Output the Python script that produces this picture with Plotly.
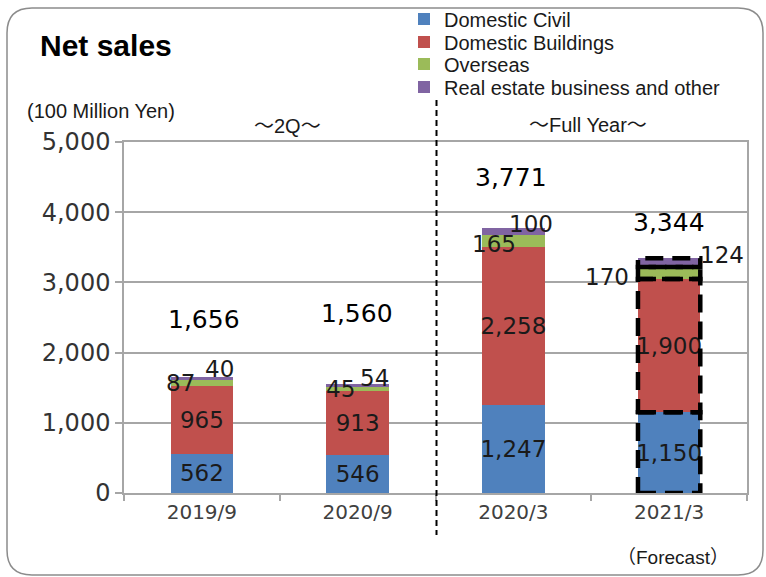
import plotly.graph_objects as go

# ---- data (100 million yen) ----
periods = ["2019/9", "2020/9", "2020/3", "2021/3"]
domestic_civil = [562, 546, 1247, 1150]
domestic_buildings = [965, 913, 2258, 1900]
overseas = [87, 45, 165, 170]
real_estate = [40, 54, 100, 124]
totals = [1656, 1560, 3771, 3344]

series_names = ["Domestic Civil", "Domestic Buildings", "Overseas",
                "Real estate business and other"]
series_colors = ["#4f81bd", "#c0504d", "#9bbb59", "#8064a2"]
series_values = [domestic_civil, domestic_buildings, overseas, real_estate]

# ---- geometry of the plotting area (pixels) ----
W, H = 766, 577
L, R, T, B = 124, 19, 142, 84
PW, PH = W - L - R, H - T - B


def px_x(px):
    return (px - L) / PW


def px_y(py):
    return (H - B - py) / PH


NUM_FONT = "DejaVu Sans"
TXT_FONT = "Liberation Sans, Arial, sans-serif"
CJK_MIX = "Liberation Sans, Noto Sans CJK JP, sans-serif"
BAR_W = 0.4

fig = go.Figure()
legend_ids = ["legend", "legend2", "legend3", "legend4"]
for i, (name, color, vals) in enumerate(zip(series_names, series_colors, series_values)):
    inside = i < 2
    fig.add_trace(go.Bar(
        x=periods, y=vals, name=name, width=BAR_W,
        marker=dict(color=color, line=dict(width=0)),
        texttemplate="%{y:,}" if inside else None,
        textposition="inside" if inside else "none",
        insidetextanchor="middle", textangle=0, constraintext="none",
        textfont=dict(family=NUM_FONT, size=23, color="#1a1a1a"),
        legend=legend_ids[i], cliponaxis=False,
    ))

# cumulative stack bounds
base = [[0] * len(periods)]
for vals in series_values:
    base.append([b + v for b, v in zip(base[-1], vals)])

annotations = []

# labels for the thin upper segments (overseas, real estate)
small_offsets = {
    2: [(-21, 0), (-17, 0), (-19, -3), (-62, -4)],
    3: [(18, 9), (17, 8), (18, 8), (53, 8)],
}
for s, offs in small_offsets.items():
    for j, p in enumerate(periods):
        mid = (base[s][j] + base[s + 1][j]) / 2
        annotations.append(dict(
            x=p, y=mid, xref="x", yref="y", text=f"{series_values[s][j]:,}",
            showarrow=False, xshift=offs[j][0], yshift=offs[j][1],
            xanchor="center", yanchor="middle",
            font=dict(family=NUM_FONT, size=23, color="#1a1a1a"),
        ))

# totals above each bar
total_offsets = [(2, 57), (-1, 70), (-2, 51), (0, 36)]
for j, p in enumerate(periods):
    annotations.append(dict(
        x=p, y=base[-1][j], xref="x", yref="y", text=f"{totals[j]:,}",
        showarrow=False, xshift=total_offsets[j][0], yshift=total_offsets[j][1],
        xanchor="center", yanchor="middle",
        font=dict(family=NUM_FONT, size=25, color="#000000"),
    ))

# free text
annotations += [
    dict(x=px_x(38), y=px_y(45), xanchor="left",
         text="<b>Net sales</b>",
         font=dict(family=TXT_FONT, size=30, color="#000000")),
    dict(x=px_x(25), y=px_y(111), xanchor="left",
         text="(100 Million Yen)",
         font=dict(family=TXT_FONT, size=20, color="#1a1a1a")),
    dict(x=px_x(287), y=px_y(126), xanchor="center",
         text="～2Q～",
         font=dict(family=CJK_MIX, size=20, color="#1a1a1a")),
    dict(x=px_x(588), y=px_y(125), xanchor="center",
         text="～Full Year～",
         font=dict(family=CJK_MIX, size=20, color="#1a1a1a")),
    dict(x=px_x(673), y=px_y(557), xanchor="center",
         text="（Forecast）",
         font=dict(family=CJK_MIX, size=19, color="#1a1a1a")),
]
for a in annotations[-5:]:
    a.update(xref="paper", yref="paper", yanchor="middle", showarrow=False)

shapes = []
# dashed outlines around each segment of the forecast bar
fc = len(periods) - 1
for s in range(len(series_values)):
    shapes.append(dict(
        type="rect", xref="x", yref="y",
        x0=fc - BAR_W / 2, x1=fc + BAR_W / 2,
        y0=base[s][fc], y1=base[s + 1][fc],
        line=dict(color="#000000", width=4.5, dash="18px,9px"),
        fillcolor="rgba(0,0,0,0)", layer="above",
    ))

# dashed separator between half-year and full-year groups
shapes.append(dict(
    type="line", xref="paper", yref="paper",
    x0=px_x(436.5), x1=px_x(436.5), y0=px_y(100), y1=px_y(535),
    line=dict(color="#000000", width=2, dash="6px,4px"),
))

# rounded frame around the whole graphic
fl, ft, fr, fb, rad = 7, 8, 763, 575, 25
pts = (
    f"M {px_x(fl + rad)},{px_y(ft)} "
    f"L {px_x(fr - rad)},{px_y(ft)} "
    f"Q {px_x(fr)},{px_y(ft)} {px_x(fr)},{px_y(ft + rad)} "
    f"L {px_x(fr)},{px_y(fb - rad)} "
    f"Q {px_x(fr)},{px_y(fb)} {px_x(fr - rad)},{px_y(fb)} "
    f"L {px_x(fl + rad)},{px_y(fb)} "
    f"Q {px_x(fl)},{px_y(fb)} {px_x(fl)},{px_y(fb - rad)} "
    f"L {px_x(fl)},{px_y(ft + rad)} "
    f"Q {px_x(fl)},{px_y(ft)} {px_x(fl + rad)},{px_y(ft)} Z"
)
shapes.append(dict(type="path", xref="paper", yref="paper", path=pts,
                   line=dict(color="#8c8c8c", width=1.5), layer="below"))

# one legend per series so the rows sit at fixed heights
legend_rows = [19, 42, 64, 87]
legends = {}
for lid, row in zip(legend_ids, legend_rows):
    legends[lid] = dict(
        x=px_x(404), y=px_y(row), xanchor="left", yanchor="middle",
        bgcolor="rgba(0,0,0,0)", borderwidth=0,
        font=dict(family=TXT_FONT, size=20, color="#1a1a1a"),
    )

GRID = "#a6a6a6"
fig.update_layout(
    width=W, height=H,
    margin=dict(l=L, r=R, t=T, b=B, autoexpand=False),
    barmode="stack", bargap=0.6,
    paper_bgcolor="white", plot_bgcolor="white",
    showlegend=True,
    annotations=annotations, shapes=shapes,
    xaxis=dict(
        type="category", showgrid=False, showline=True, linecolor=GRID,
        linewidth=1.5, mirror=True, ticks="outside", tickson="boundaries",
        ticklen=6, tickcolor=GRID, tickwidth=1.5,
        tickfont=dict(family=NUM_FONT, size=20, color="#404040"),
    ),
    yaxis=dict(
        range=[0, 5000], dtick=1000, tickformat=",", showgrid=True,
        gridcolor=GRID, gridwidth=1.5, showline=True, linecolor=GRID,
        linewidth=1.5, mirror=True, ticks="outside", ticklen=7,
        tickcolor=GRID, tickwidth=1.5, zeroline=False,
        tickfont=dict(family=NUM_FONT, size=24, color="#333333"),
    ),
    **legends,
)

fig.write_html("out.html")
